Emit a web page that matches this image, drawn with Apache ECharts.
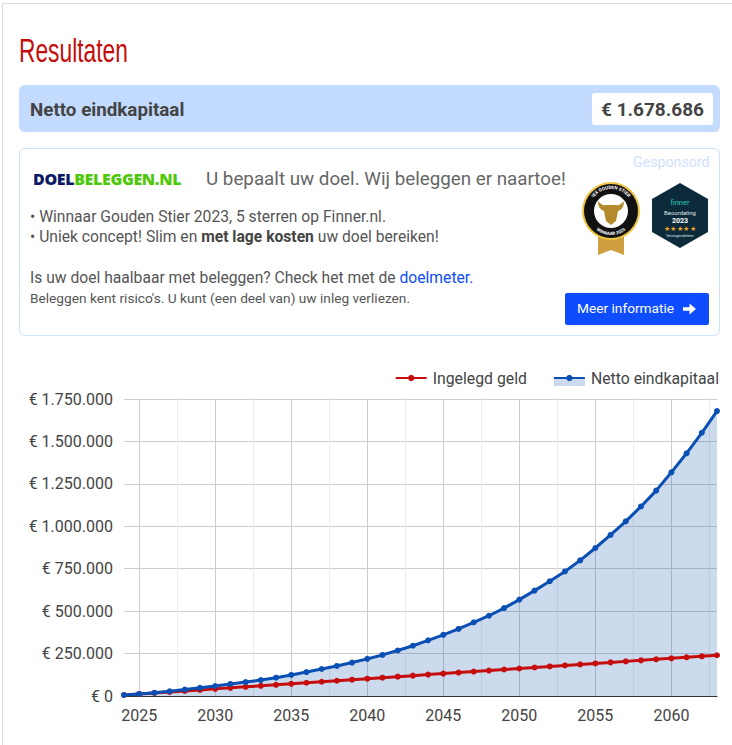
<!DOCTYPE html>
<html lang="nl"><head><meta charset="utf-8">
<script src="https://cdn.jsdelivr.net/npm/echarts@6/dist/echarts.min.js"></script>
<style>
html,body{margin:0;padding:0;background:#fff;width:732px;height:745px;overflow:hidden;font-family:Roboto,sans-serif;color:#555}
.a{position:absolute;white-space:nowrap;line-height:1}
#chart{position:absolute;left:0;top:0;width:732px;height:745px}
</style></head><body>
<div class="a" style="left:2px;top:3px;width:730px;height:742px;border-left:1px solid #ddd;border-top:1px solid #ddd"></div>
<div id="chart"></div>
<div class="a" id="head" style="left:19px;top:34px;font-family:'Liberation Sans Narrow','Liberation Sans';font-size:33px;color:#c40d0d;transform-origin:left top;transform:scaleX(.69)">Resultaten</div>
<div class="a" style="left:19px;top:85px;width:701px;height:47px;background:#c2dbff;border-radius:6px"></div>
<div class="a" style="left:30px;top:101px;font-size:18.8px;font-weight:700;color:#444">Netto eindkapitaal</div>
<div class="a" style="left:592px;top:93px;width:121px;height:32px;background:#fff;border-radius:3px;font-size:19px;font-weight:700;color:#444;line-height:33px;text-align:center">€ 1.678.686</div>
<div class="a" style="left:19px;top:148px;width:699px;height:186px;border:1px solid #cfe2ff;border-radius:6px"></div>
<div class="a" style="left:633px;top:155px;font-size:14.2px;color:#cfe2ff">Gesponsord</div>
<div class="a" style="left:33px;top:171px;font-size:16px;font-weight:800;font-family:'Open Sans';letter-spacing:-.35px;color:#4fc80a"><span style="color:#0b1a66">DOEL</span>BELEGGEN.NL</div>
<div class="a" style="left:206px;top:170px;font-size:18.8px;color:#666">U bepaalt uw doel. Wij beleggen er naartoe!</div>
<div class="a" style="left:30px;top:209px;font-size:15.65px">• Winnaar Gouden Stier 2023, 5 sterren op Finner.nl.</div>
<div class="a" style="left:30px;top:229px;font-size:15.65px">• Uniek concept! Slim en <b style="color:#444">met lage kosten</b> uw doel bereiken!</div>
<div class="a" style="left:30px;top:270px;font-size:15.65px">Is uw doel haalbaar met beleggen? Check het met de <span style="color:#0d4cff">doelmeter.</span></div>
<div class="a" style="left:30px;top:292px;font-size:13.7px">Beleggen kent risico's. U kunt (een deel van) uw inleg verliezen.</div>
<div class="a" style="left:565px;top:293px;width:144px;height:32px;background:#0d4cff;border-radius:2px;color:#fff;font-size:13.7px;line-height:31px;text-indent:12px">Meer informatie
<svg style="position:absolute;left:118px;top:9px" width="13" height="14" viewBox="0 0 14 14"><path d="M0 5h7V1l7 6-7 6V9H0z" fill="#fff"/></svg></div>
<svg class="a" style="left:575px;top:175px" width="140" height="85" viewBox="0 0 140 85">
<defs><path id="arcT" d="M14 36a22 22 0 0 1 44 0"/><path id="arcB" d="M12 36a24 24 0 0 0 48 0"/></defs>
<path d="M23 58h26v22l-13-5-13 5z" fill="#d09f3f"/>
<circle cx="36" cy="36" r="29" fill="#eec543"/><circle cx="36" cy="36" r="27" fill="#111"/><circle cx="36" cy="36" r="17" fill="#fff"/>
<path d="M23 26q4 5 8 4h10q4 1 8-4q0 8-6 10l-2 10-5 4-5-4-2-10q-6-2-6-10z" fill="#b58a2c"/>
<text font-size="4.6" font-weight="700" fill="#fff" text-anchor="middle"><textPath href="#arcT" startOffset="50%">IEX GOUDEN STIER</textPath></text>
<text font-size="4.4" font-weight="700" fill="#fff" text-anchor="middle"><textPath href="#arcB" startOffset="50%">WINNAAR 2023</textPath></text>
<path d="M105 8l28 16v33l-28 16-28-16V24z" fill="#0d2a3b"/>
<text x="105" y="30" font-size="7.5" fill="#2cc7b5" text-anchor="middle">finner</text>
<text x="105" y="40" font-size="6" fill="#dfe6ea" text-anchor="middle">Beoordeling</text>
<text x="105" y="48" font-size="7" font-weight="700" fill="#fff" text-anchor="middle">2023</text>
<text x="105" y="56" font-size="6.5" fill="#f5a623" text-anchor="middle" letter-spacing=".6">★★★★★</text>
<text x="105" y="62" font-size="3.4" fill="#dfe6ea" text-anchor="middle">Vermogensbeheer</text>
</svg>
<script>
const years = [2024,2025,2026,2027,2028,2029,2030,2031,2032,2033,2034,2035,2036,2037,2038,2039,2040,2041,2042,2043,2044,2045,2046,2047,2048,2049,2050,2051,2052,2053,2054,2055,2056,2057,2058,2059,2060,2061,2062,2063];
const ingelegd = [6000,12000,18000,24000,30000,36000,42000,48000,54000,60000,66000,72000,78000,84000,90000,96000,102000,108000,114000,120000,126000,132000,138000,144000,150000,156000,162000,168000,174000,180000,186000,192000,198000,204000,210000,216000,222000,228000,234000,240000];
const netto = [6000,12000,19000,28000,38000,48000,59000,71000,82000,94000,108000,124000,141000,159000,177000,197000,219000,242000,268000,296000,328000,360000,395000,434000,473000,518000,568000,621000,676000,734000,799000,872000,949000,1029000,1117000,1210000,1318000,1430000,1551000,1678686];
const minorYears = [2027.5,2032.5,2037.5,2042.5,2047.5,2052.5,2057.5,2062.5];
const RED='#c60d0d', BLUE='#0a4fb3', TXT='#444';
const fmt = v => '€ ' + String(v).replace(/\B(?=(\d{3})+$)/g,'.');
const chart = echarts.init(document.getElementById('chart'),null,{renderer:'svg'});
chart.setOption({
  animation:false,
  textStyle:{fontFamily:'Roboto'},
  legend:{right:13,top:370,padding:0,itemWidth:31,itemHeight:8,itemGap:26,data:['Ingelegd geld','Netto eindkapitaal'],
    textStyle:{fontSize:15.8,color:TXT,padding:[0,0,0,1]},selectedMode:false},
  grid:{left:124,right:15,top:399,bottom:49,containLabel:false},
  xAxis:[{type:'category',data:years,boundaryGap:false,
      axisLine:{lineStyle:{color:'#333',width:1}},axisTick:{show:false},
      axisLabel:{fontSize:16,color:TXT,margin:11,interval:(i,v)=>+v%5===0,hideOverlap:false},
      splitLine:{show:true,showMinLine:true,showMaxLine:true,interval:(i,v)=>+v%5===0,lineStyle:{color:'#ccc',width:1}}},
    {type:'value',min:2024,max:2063,show:false,splitLine:{show:false}}],
  yAxis:{type:'value',min:0,max:1750000,interval:250000,
      axisLine:{show:false},axisTick:{show:false},
      axisLabel:{fontSize:16,color:TXT,margin:11,formatter:fmt},
      splitLine:{lineStyle:{color:'#ccc',width:1}}},
  series:[
    {type:'line',name:'raster',xAxisIndex:1,data:[],z:1,silent:true,
     markLine:{z:1,silent:true,symbol:'none',label:{show:false},animation:false,
       lineStyle:{color:'#ebebeb',width:1,type:'solid'},data:minorYears.map(y=>({xAxis:y}))}},
    {type:'line',name:'vlak',data:netto,z:3,symbol:'none',showSymbol:false,silent:true,
     lineStyle:{width:0,opacity:0},areaStyle:{color:'#0047ab',opacity:.2}},
    {type:'line',name:'Ingelegd geld',data:ingelegd,z:4,symbol:'circle',symbolSize:6,showSymbol:true,
     lineStyle:{color:RED,width:3},itemStyle:{color:RED}},
    {type:'line',name:'Netto eindkapitaal',data:netto,z:5,symbol:'circle',symbolSize:6,showSymbol:true,
     lineStyle:{color:BLUE,width:3},itemStyle:{color:BLUE}}
  ],
  graphic:[{type:'rect',shape:{x:554,y:379,width:31,height:7},style:{fill:'#ccdaee'},z:-1,silent:true}]
});
</script>
</body></html>
